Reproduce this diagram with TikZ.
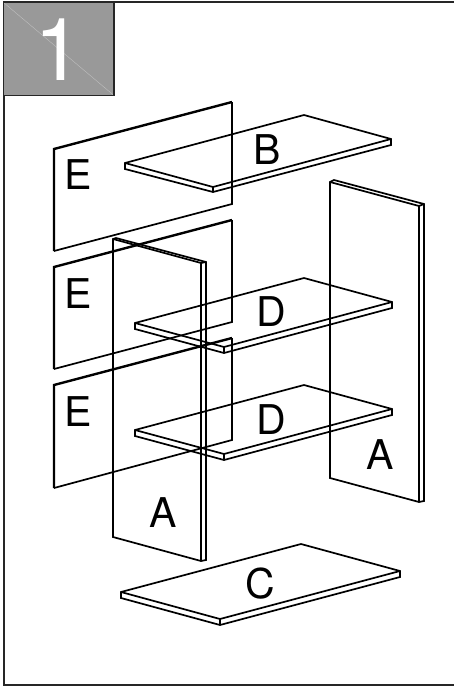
\documentclass[tikz,border=0pt]{standalone}
\usepackage{fontspec}
\setmainfont{TeX Gyre Heros}
\tikzset{
  edge/.style={line width=1.7pt,line join=miter,black},
  heavy/.style={line width=2.4pt,line join=miter,black},
  letter/.style={font=\fontsize{41}{41}\selectfont,text=black,inner sep=0pt,anchor=center},
}
\begin{document}
\begin{tikzpicture}[x=1pt,y=-1pt]
\useasboundingbox (0,0) rectangle (454,686);
\draw[line width=2pt,black!85] (454,2) -- (3.5,2) -- (3.5,684.5) -- (454,684.5);
\fill[black!40] (3.5,2.5) rectangle (114,95.5);
\draw[black!25,line width=.4pt] (3.5,2.5) -- (114,95.5);
\draw[line width=1.7pt,black!85] (3.5,2.5) rectangle (114,95.5);
\node[font=\fontsize{87}{87}\selectfont,text=white,inner sep=0pt] (num) at (58.5,50) {1};
% E panels
\draw[edge] (232,102) -- (232,204) -- (54,251);
\draw[heavy] (54,251) -- (54,149) -- (232,102);
\draw[edge] (232,220) -- (232,322) -- (54,369);
\draw[heavy] (54,369) -- (54,267) -- (232,220);
\draw[edge] (232,338) -- (232,440) -- (54,488);
\draw[heavy] (54,488) -- (54,385) -- (232,338);
% B
\draw[edge] (125,163) -- (304,115) -- (391,139) -- (391,145) -- (213,192) -- (125,169) -- cycle;
\draw[edge] (125,163) -- (213,187) -- (391,139) (213,187) -- (213,192);
% D1
\draw[edge] (135,323) -- (304,278) -- (392,302) -- (392,308) -- (224,353) -- (135,329) -- cycle;
\draw[edge] (135,323) -- (224,347) -- (392,302) (224,347) -- (224,353);
% D2
\draw[edge] (135,430) -- (304,385) -- (392,409) -- (392,415) -- (224,460) -- (135,436) -- cycle;
\draw[edge] (135,430) -- (224,454) -- (392,409) (224,454) -- (224,460);
% A left
\draw[edge] (113,239) -- (116,238) -- (206,262) -- (206,560) -- (201,561) -- (113,537) -- cycle;
\draw[edge] (113,239) -- (201,263) -- (206,262) (201,263) -- (201,561);
% A right
\draw[edge] (330,182) -- (334,180) -- (424,204) -- (424,501) -- (419,502) -- (330,478) -- cycle;
\draw[edge] (330,182) -- (419,206) -- (424,204) (419,206) -- (419,502);
% C
\draw[edge] (121,592) -- (301,544) -- (400,571) -- (400,577) -- (220,625) -- (121,598) -- cycle;
\draw[edge] (121,592) -- (220,619) -- (400,571) (220,619) -- (220,625);
% letters
\node[letter] (e1) at (78,175) {E};
\node[letter] (e2) at (78,294) {E};
\node[letter] (e3) at (78,412) {E};
\node[letter] (b) at (267,150) {B};
\node[letter] (d1) at (271,312) {D};
\node[letter] (d2) at (271,420) {D};
\node[letter] (a1) at (163,513) {A};
\node[letter] (a2) at (380,455) {A};
\node[letter] (c) at (260,584) {C};
\end{tikzpicture}
\end{document}
